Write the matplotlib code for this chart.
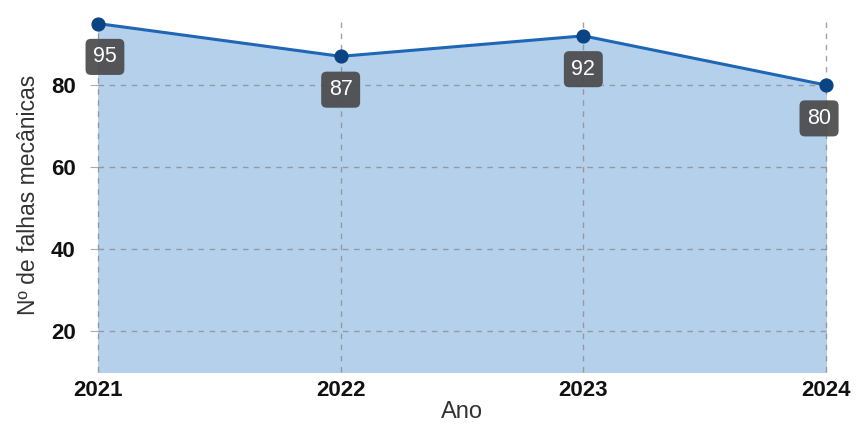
import matplotlib
matplotlib.use("Agg")
import matplotlib.pyplot as plt

years = [2021, 2022, 2023, 2024]
falhas = [95, 87, 92, 80]
yticks = [20, 40, 60, 80]

plt.rcParams['font.family'] = ['Liberation Sans', 'DejaVu Sans']

fig = plt.figure(figsize=(8.56, 4.26), dpi=100)
ax = fig.add_axes([98/856, 1-372/426, (826-98)/856, (372-17)/426])

ax.fill_between(years, falhas, 10, color='#b5d0eb', zorder=1)
ax.plot(years, falhas, color='#1f66b5', lw=2.2, zorder=3)
ax.scatter(years, falhas, s=85, color='#0b4485', zorder=4, clip_on=False)

ax.set_xlim(2021, 2024)
ax.set_ylim(10, 96.6)
ax.set_xticks(years)
ax.set_xticklabels([str(y) for y in years], fontweight='bold', fontsize=16, color='#111111')
ax.set_yticks(yticks)
ax.set_yticklabels([str(v) for v in yticks], fontweight='bold', fontsize=16, color='#111111')
ax.tick_params(axis='x', length=0, pad=6)
ax.tick_params(axis='y', length=6, color='#aaaaaa', pad=10)
for s in ax.spines.values():
    s.set_visible(False)
ax.grid(True, linestyle=(0, (4, 4)), color='#8c8c8c', lw=1, alpha=0.8)
ax.set_axisbelow(False)
for gl in ax.get_xgridlines() + ax.get_ygridlines():
    gl.set_zorder(2)
    gl.set_clip_on(False)

ax.set_xlabel('Ano', fontsize=17, color='#333333', labelpad=0)
ax.set_ylabel('Nº de falhas mecânicas', fontsize=16.5, color='#333333', labelpad=8)

offsets_x = [5, 0, 0, -5]
for x, y, dx in zip(years, falhas, offsets_x):
    ax.annotate(str(y), (x, y), xytext=(dx, -24), textcoords='offset points',
                ha='center', va='center', fontsize=15.5, color='white', zorder=5,
                annotation_clip=False,
                bbox=dict(boxstyle='round,pad=0.35,rounding_size=0.25', fc='#4a4a4a', ec='none', alpha=0.92))

fig.savefig('out.png', dpi=100)
